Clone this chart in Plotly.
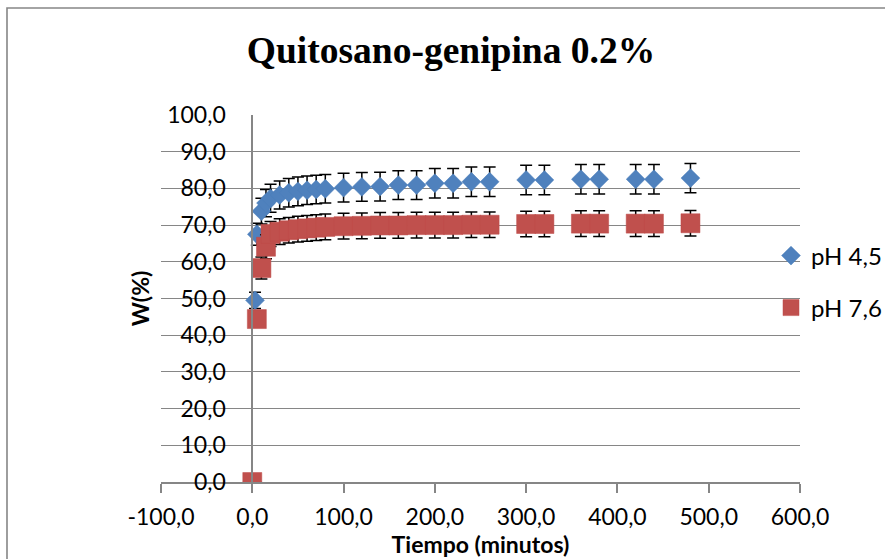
import plotly.graph_objects as go

# ---- data ----
t_ph45 = [0, 3, 5, 10, 15, 20, 30, 40, 50, 60, 70, 80, 100, 120, 140, 160, 180, 200,
          220, 240, 260, 300, 320, 360, 380, 420, 440, 480]
w_ph45 = [0, 49.5, 67.5, 73.8, 76.0, 77.3, 78.2, 78.8, 79.2, 79.5, 79.7, 79.9, 80.2, 80.4,
          80.5, 80.9, 80.9, 81.4, 81.4, 81.8, 81.8, 82.3, 82.3, 82.5, 82.5, 82.5, 82.5, 82.8]
e_ph45 = [0, 2.2, 3.0, 3.5, 3.7, 3.8, 3.8, 3.9, 3.9, 3.9, 3.9, 3.9, 3.9, 3.9,
          3.9, 3.9, 3.9, 4.0, 4.0, 4.0, 4.0, 4.0, 4.0, 4.0, 4.0, 4.0, 4.0, 4.0]

t_ph76 = [0, 5, 10, 15, 20, 30, 40, 50, 60, 70, 80, 100, 120, 140, 160, 180, 200,
          220, 240, 260, 300, 320, 360, 380, 420, 440, 480]
w_ph76 = [0, 44.4, 58.3, 64.1, 67.6, 68.2, 68.6, 68.9, 69.1, 69.3, 69.5, 69.7, 69.8,
          69.9, 69.9, 70.0, 70.0, 70.0, 70.1, 70.1, 70.3, 70.3, 70.4, 70.4, 70.4, 70.4, 70.5]
e_ph76 = [0, 1.0, 3.0, 3.3, 3.4, 3.5, 3.5, 3.5, 3.5, 3.5, 3.5, 3.5, 3.5,
          3.5, 3.5, 3.5, 3.5, 3.5, 3.5, 3.5, 3.5, 3.5, 3.5, 3.5, 3.5, 3.5, 3.5]

x_ticks = [-100, 0, 100, 200, 300, 400, 500, 600]
y_ticks = [0, 10, 20, 30, 40, 50, 60, 70, 80, 90, 100]

FONT = "Lato, Carlito, 'Open Sans', sans-serif"
GRID = "#868686"

fig = go.Figure()
fig.add_trace(go.Scatter(
    x=t_ph45, y=w_ph45, mode="markers", name="pH 4,5", legend="legend", showlegend=True,
    marker=dict(symbol="diamond", size=14.5, color="#4F81BD",
                line=dict(color="#4A7EBB", width=0.5)),
    error_y=dict(type="data", array=e_ph45, color="black", thickness=1.5, width=6),
))
fig.add_trace(go.Scatter(
    x=t_ph76, y=w_ph76, mode="markers", name="pH 7,6", legend="legend2", showlegend=True,
    marker=dict(symbol="square", size=19, color="#C0504D",
                line=dict(color="#BE4B48", width=0.5)),
    error_y=dict(type="data", array=e_ph76, color="black", thickness=1.5, width=6),
))

L, R, T, B = 161, 85, 115, 77
W, H = 885, 559
pw = W - L - R
ph = H - T - B

fig.update_layout(
    width=W, height=H, showlegend=True,
    margin=dict(l=L, r=R, t=T, b=B, autoexpand=False),
    paper_bgcolor="white", plot_bgcolor="white",
    font=dict(family=FONT, size=23, color="black"),
    title=dict(text="<b>Quitosano-genipina 0.2%</b>",
               font=dict(family="'Liberation Serif', 'Times New Roman', serif", size=37.5, color="black"),
               x=(451 - L) / pw, xref="paper", xanchor="center",
               y=1 - 50 / H, yref="container", yanchor="middle"),
    xaxis=dict(
        range=[-100, 600], tickvals=x_ticks,
        ticktext=[f"{v:.1f}".replace(".", ",") for v in x_ticks],
        showgrid=False, zeroline=False, showline=True, linecolor=GRID, linewidth=1.5,
        ticks="outside", ticklen=9, tickwidth=1.5, tickcolor=GRID, ticklabelstandoff=5,
        title=dict(text="<b>Tiempo (minutos)</b>", font=dict(size=23), standoff=0),
        tickfont=dict(size=23),
    ),
    yaxis=dict(
        range=[0, 100], tickvals=y_ticks,
        ticktext=[f"{v:.1f}".replace(".", ",") for v in y_ticks],
        anchor="free", position=100 / 700,
        showgrid=True, gridcolor=GRID, gridwidth=1.2,
        zeroline=False, showline=True, linecolor=GRID, linewidth=1.8,
        ticks="", ticklabelstandoff=21,
        title=dict(text="<b>W(%)</b>", font=dict(size=23), standoff=10),
        tickfont=dict(size=23),
    ),
    legend=dict(x=(771 - L) / pw, y=(482 - 256) / ph, xanchor="left", yanchor="middle",
                bgcolor="rgba(0,0,0,0)", font=dict(size=24)),
    legend2=dict(x=(771 - L) / pw, y=(482 - 308) / ph, xanchor="left", yanchor="middle",
                 bgcolor="rgba(0,0,0,0)", font=dict(size=24)),
    shapes=[dict(type="rect", xref="paper", yref="paper",
                 x0=(7 - L) / pw, x1=(W + 20 - L) / pw,
                 y0=-(H + 20 - 482) / ph, y1=(482 - 8) / ph,
                 line=dict(color=GRID, width=1.6), fillcolor="rgba(0,0,0,0)", layer="below")],
)

fig.write_html("out.html")
